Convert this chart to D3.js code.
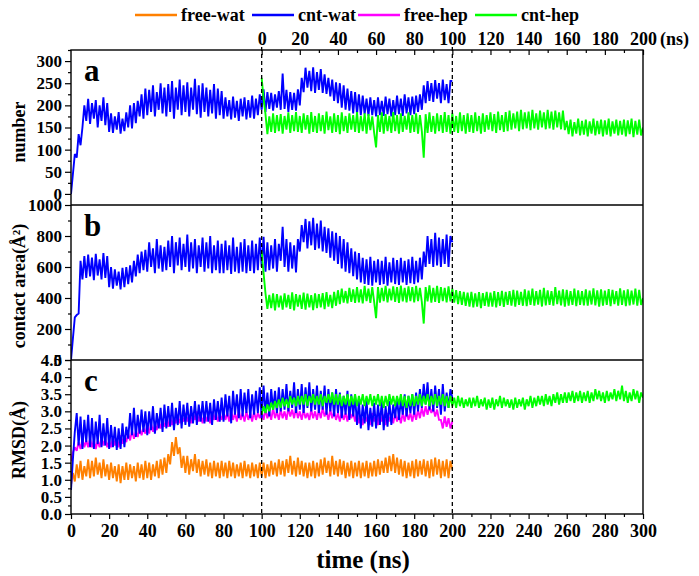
<!DOCTYPE html>
<html><head><meta charset="utf-8">
<script src="https://cdn.jsdelivr.net/npm/d3@7"></script>
<style>html,body{margin:0;padding:0;background:#fff}svg{display:block}</style>
</head><body><svg id="c" width="699" height="576"></svg>
<script>
// ---------------- DATA ----------------
const timeTicksBottom = [0,20,40,60,80,100,120,140,160,180,200,220,240,260,280,300];
const timeTicksTop = [0,20,40,60,80,100,120,140,160,180,200];
const ticksNumber = [0,50,100,150,200,250,300];
const ticksArea = [0,200,400,600,800,1000];
const ticksRmsd = [0,0.5,1,1.5,2,2.5,3,3.5,4,4.5];
const seriesNames = ["free-wat","cnt-wat","free-hep","cnt-hep"];
const seriesColors = ["#FF8000","#0000FF","#FF00FF","#00FF00"];
const startWat = 0, startHep = 100; // ns, first sample time (1 ns step)

// panel a : number
const numCntWat = [
0,45,90,82,135,110,150,200,165,215,
158,205,170,212,150,200,165,218,155,205,
140,182,138,175,145,185,136,170,142,184,
150,200,148,205,160,210,175,225,170,238,
178,235,185,245,175,230,190,250,182,240,
175,248,185,255,170,240,190,258,178,245,
185,252,175,240,190,260,180,245,172,250,
185,240,175,235,182,248,170,238,178,232,
170,218,175,212,168,220,172,210,165,215,
175,218,168,212,172,222,170,215,178,225,
190,236,185,230,192,228,188,225,195,232,
190,272,192,235,185,230,190,228,188,236,
200,262,230,285,240,278,232,286,228,275,
235,282,228,270,226,262,220,258,210,252,
205,250,195,245,190,238,188,232,182,230,
180,225,178,222,180,215,176,218,178,212,
175,218,178,210,176,220,180,215,175,212,
178,222,180,215,176,225,182,218,178,220,
180,222,185,225,190,245,205,255,210,250,
208,257,215,250,205,258,212,248,205,255,
255];
const numCntHep = [
262,215,180,135,175,140,182,138,178,142,
180,136,176,145,184,138,178,142,185,140,
176,138,182,145,178,136,185,140,176,138,
182,142,178,136,186,144,175,138,182,140,
178,135,184,142,176,138,182,145,178,140,
185,138,176,142,182,136,180,144,175,138,
105,178,140,184,136,180,142,176,138,185,
142,178,136,182,140,176,145,184,138,178,
140,182,136,178,142,82,180,138,184,140,
176,136,182,142,178,138,185,140,178,136,
182,140,176,138,184,142,178,136,182,140,
178,138,184,142,176,136,182,140,178,145,
184,142,180,138,186,144,178,140,185,142,
188,145,182,148,186,142,190,146,184,148,
186,144,190,148,182,145,188,150,184,146,
190,148,186,145,188,150,184,146,188,144,
165,135,168,130,162,136,170,132,165,134,
168,130,164,136,170,132,165,135,168,130,
166,134,170,130,164,136,168,132,165,134,
168,130,166,135,170,128,165,134,168,132,
150];

// panel b : contact area
const areaCntWat = [
0,140,275,290,300,640,520,670,530,680,
540,660,515,685,545,650,520,690,530,670,
470,600,460,585,480,570,455,595,470,600,
490,610,500,640,540,680,560,700,580,710,
570,760,600,720,560,780,590,740,570,730,
580,770,600,800,560,760,610,790,580,750,
600,810,570,760,590,780,560,740,600,790,
570,760,590,800,560,740,580,770,560,750,
560,770,580,740,555,790,570,730,560,760,
570,780,560,740,575,770,560,750,580,790,
600,795,570,760,580,740,590,780,570,750,
640,860,600,780,570,760,590,740,565,780,
700,870,760,910,720,895,740,918,710,880,
720,900,700,860,690,850,660,830,640,820,
620,800,590,780,570,760,560,720,540,700,
520,690,500,660,490,650,485,665,480,640,
500,650,485,640,490,665,480,630,500,660,
490,645,485,660,500,640,485,650,495,665,
490,640,500,660,520,700,600,800,620,780,
600,820,610,790,600,780,620,810,600,800,
760];
const areaCntHep = [
700,560,430,330,420,335,430,320,425,340,
415,325,430,340,420,330,436,320,425,345,
420,330,435,325,428,340,418,322,430,335,
425,340,432,328,438,345,420,335,440,350,
450,360,460,370,445,365,465,375,455,368,
470,372,455,365,478,380,460,368,470,375,
270,470,370,465,380,478,372,460,385,475,
375,470,368,480,378,465,372,475,380,470,
372,478,380,465,375,235,470,378,482,370,
465,375,478,368,470,380,465,372,475,378,
460,370,450,360,445,355,440,350,435,345,
440,340,430,345,438,335,432,350,440,345,
435,345,445,340,438,350,446,342,440,355,
445,350,452,345,448,355,440,350,455,348,
448,355,460,350,445,358,452,345,465,352,
450,356,445,350,470,360,448,352,455,345,
452,350,445,355,460,348,450,356,445,352,
455,350,448,358,462,352,450,345,456,350,
448,355,458,348,452,360,445,350,462,355,
450,348,455,352,448,358,460,350,452,355,
400];

// panel c : RMSD
const rmsdFreeWat = [
0.85,1.2,0.95,1.45,1.05,1.55,1.0,1.4,1.1,1.6,
1.05,1.55,1.1,1.65,1.15,1.5,1.05,1.6,1.1,1.45,
1.0,1.5,1.05,1.4,0.95,1.45,0.9,1.4,1.0,1.5,
1.0,1.45,1.05,1.4,0.95,1.5,1.05,1.45,1.0,1.55,
1.05,1.5,1.0,1.45,1.1,1.55,1.05,1.6,1.15,1.65,
1.2,1.75,1.45,2.1,1.7,2.25,1.75,1.95,1.35,1.7,
1.2,1.7,1.15,1.6,1.25,1.75,1.2,1.6,1.1,1.55,
1.15,1.6,1.1,1.5,1.05,1.55,1.1,1.5,1.05,1.55,
1.1,1.5,1.05,1.55,1.1,1.5,1.05,1.45,1.1,1.5,
1.05,1.55,1.1,1.45,1.05,1.5,1.1,1.45,1.05,1.5,
1.1,1.5,1.05,1.45,1.1,1.55,1.15,1.5,1.1,1.6,
1.15,1.55,1.1,1.6,1.2,1.7,1.15,1.55,1.1,1.65,
1.15,1.55,1.1,1.5,1.05,1.5,1.1,1.55,1.05,1.5,
1.1,1.6,1.15,1.65,1.2,1.55,1.1,1.7,1.15,1.55,
1.1,1.6,1.15,1.55,1.05,1.5,1.1,1.55,1.05,1.5,
1.1,1.55,1.05,1.5,1.1,1.55,1.05,1.5,1.1,1.55,
1.1,1.6,1.15,1.55,1.2,1.65,1.2,1.7,1.25,1.75,
1.2,1.65,1.15,1.6,1.1,1.55,1.05,1.5,1.1,1.55,
1.05,1.6,1.1,1.55,1.15,1.6,1.1,1.55,1.05,1.6,
1.1,1.65,1.15,1.6,1.05,1.55,1.1,1.6,1.05,1.55,
1.3];
const rmsdCntWat = [
0.7,1.6,2.4,2.95,2.0,2.85,1.9,2.75,2.1,2.9,
1.95,2.8,1.9,2.7,2.05,2.9,1.95,2.65,2.0,2.8,
1.9,2.6,1.95,2.55,1.87,2.5,1.9,2.65,1.95,2.55,
2.2,2.95,2.3,3.1,2.25,2.9,2.35,3.05,2.4,3.0,
2.3,3.0,2.45,3.15,2.35,2.95,2.5,3.1,2.4,3.2,
2.5,3.15,2.55,3.25,2.45,3.1,2.6,3.3,2.5,3.2,
2.6,3.25,2.55,3.15,2.65,3.3,2.6,3.2,2.7,3.3,
2.65,3.3,2.7,3.25,2.6,3.35,2.75,3.3,2.7,3.4,
2.7,3.5,2.85,3.45,2.65,3.6,2.9,3.5,2.8,3.65,
2.85,3.55,2.95,3.65,2.8,3.5,2.9,3.6,2.95,3.7,
2.8,3.75,2.95,3.55,2.85,3.65,3.05,3.6,2.95,3.7,
3.0,3.65,3.05,3.8,3.0,3.6,3.1,3.85,2.95,3.65,
3.05,3.8,2.95,3.7,3.1,3.85,3.0,3.65,3.05,3.75,
2.95,3.6,3.05,3.75,2.9,3.65,3.0,3.55,2.85,3.65,
2.95,3.55,2.8,3.45,2.9,3.6,2.75,3.5,2.85,3.45,
2.6,3.3,2.5,3.2,2.65,3.35,2.45,3.1,2.55,3.25,
2.5,3.2,2.6,3.3,2.45,3.15,2.55,3.3,2.6,3.2,
2.8,3.4,2.75,3.35,2.9,3.5,2.85,3.45,2.95,3.5,
2.9,3.55,3.0,3.65,3.1,3.8,3.2,3.85,3.05,3.65,
3.0,3.75,3.1,3.65,2.9,3.8,3.0,3.55,3.1,3.65,
3.4];
const rmsdFreeHep = [
1.55,1.8,1.95,1.85,2.1,1.9,2.2,1.95,2.15,1.95,
2.2,1.95,2.15,1.9,2.15,1.95,2.25,2.0,2.2,1.95,
2.15,1.95,2.25,2.0,2.2,1.95,2.3,2.05,2.3,2.1,
2.35,2.15,2.45,2.2,2.4,2.25,2.55,2.3,2.5,2.35,
2.6,2.35,2.65,2.4,2.6,2.45,2.75,2.5,2.7,2.55,
2.8,2.55,2.85,2.6,2.8,2.65,2.9,2.65,2.85,2.7,
2.95,2.7,2.9,2.65,2.95,2.75,3.0,2.7,2.9,2.65,
2.95,2.7,2.9,2.65,3.0,2.75,2.95,2.7,2.9,2.75,
3.0,2.75,2.95,2.7,3.0,2.75,2.95,2.7,3.05,2.75,
2.95,2.7,3.0,2.75,2.95,2.7,3.0,2.75,2.95,2.8,
3.0,2.75,3.05,2.8,3.0,2.75,3.1,2.8,3.0,2.75,
3.05,2.8,3.0,2.75,3.1,2.85,3.05,2.8,3.1,2.8,
3.0,2.75,3.05,2.8,2.95,2.75,3.05,2.8,3.0,2.75,
3.05,2.8,3.1,2.85,3.0,2.75,3.05,2.8,3.0,2.75,
2.95,2.7,3.0,2.75,2.95,2.7,3.05,2.8,2.95,2.7,
2.95,2.65,2.9,2.6,2.95,2.7,2.9,2.6,2.95,2.7,
2.9,2.6,2.95,2.7,2.9,2.6,2.95,2.7,2.9,2.65,
2.95,2.7,2.9,2.65,2.95,2.7,3.0,2.75,2.95,2.7,
3.0,2.75,3.05,2.8,3.1,2.85,3.15,2.9,3.15,2.95,
3.1,2.85,3.05,2.75,2.75,2.5,2.85,2.55,2.8,2.5,
2.7];
const rmsdCntHep = [
2.9,3.15,2.95,3.2,3.0,3.25,3.05,3.3,3.1,3.35,
3.1,3.4,3.15,3.35,3.1,3.45,3.2,3.4,3.15,3.45,
3.2,3.45,3.2,3.5,3.15,3.45,3.25,3.5,3.2,3.45,
3.2,3.5,3.15,3.45,3.25,3.5,3.25,3.55,3.2,3.5,
3.2,3.5,3.15,3.45,3.2,3.5,3.15,3.45,3.2,3.5,
3.15,3.45,3.2,3.5,3.15,3.45,3.2,3.5,3.15,3.45,
3.2,3.5,3.15,3.45,3.1,3.45,3.15,3.5,3.2,3.45,
3.15,3.45,3.2,3.5,3.15,3.45,3.1,3.45,3.15,3.5,
3.15,3.45,3.2,3.5,3.15,3.45,3.2,3.5,3.15,3.45,
3.2,3.5,3.15,3.45,3.2,3.5,3.15,3.45,3.1,3.45,
3.15,3.4,3.1,3.45,3.15,3.4,3.1,3.35,3.15,3.4,
3.1,3.4,3.15,3.45,3.1,3.35,3.15,3.4,3.05,3.35,
3.1,3.4,3.05,3.35,3.15,3.45,3.1,3.4,3.15,3.35,
3.1,3.35,3.05,3.4,3.1,3.35,3.15,3.4,3.05,3.35,
3.15,3.45,3.1,3.4,3.15,3.45,3.2,3.45,3.15,3.5,
3.2,3.45,3.15,3.5,3.25,3.55,3.2,3.5,3.25,3.55,
3.25,3.55,3.3,3.6,3.25,3.55,3.3,3.6,3.25,3.55,
3.3,3.6,3.25,3.55,3.3,3.65,3.35,3.6,3.3,3.55,
3.25,3.6,3.3,3.55,3.35,3.65,3.3,3.6,3.35,3.75,
3.3,3.6,3.25,3.55,3.3,3.65,3.35,3.6,3.25,3.55,
3.4];

// ---------------- DRAW ----------------
const svg = d3.select("#c");
const FONT = "'Liberation Serif','Times New Roman',serif";
const L = 71, R = 643, T = 50, B = 514;
const x = d3.scaleLinear().domain([0,300]).range([L,R]);
const xTop = d3.scaleLinear().domain([0,200]).range([x(100), x(300)]);

const panels = [
  {id:"a", top:50, bot:205, domain:[-25,325], ticks:ticksNumber, minorStep:25, fmt:d=>d, title:"number", titleY:132,
   series:[{v:numCntWat,s:startWat,c:1},{v:numCntHep,s:startHep,c:3}]},
  {id:"b", top:205, bot:360, domain:[0,1000], ticks:ticksArea, minorStep:100, fmt:d=>d, title:"contact area(Å²)", titleY:286,
   series:[{v:areaCntWat,s:startWat,c:1},{v:areaCntHep,s:startHep,c:3}]},
  {id:"c", top:360, bot:514, domain:[0,4.5], ticks:ticksRmsd, minorStep:0.25, fmt:d3.format(".1f"), title:"RMSD(Å)", titleY:440,
   series:[{v:rmsdFreeWat,s:startWat,c:0},{v:rmsdFreeHep,s:startWat,c:2},{v:rmsdCntWat,s:startWat,c:1},{v:rmsdCntHep,s:startHep,c:3}]}
];

const defs = svg.append("defs");
panels.forEach(p=>{
  defs.append("clipPath").attr("id","clip"+p.id).append("rect")
    .attr("x",L).attr("y",p.top).attr("width",R-L).attr("height",p.bot-p.top);
});

panels.forEach(p=>{
  const y = d3.scaleLinear().domain(p.domain).range([p.bot,p.top]);
  const g = svg.append("g").attr("clip-path","url(#clip"+p.id+")");
  const line = d3.line().x(d=>x(d.t)).y(d=>y(d.v));
  p.series.forEach(s=>{
    const pts = s.v.map((v,i)=>({t:s.s+i, v:v}));
    g.append("path").datum(pts).attr("d",line)
      .attr("fill","none").attr("stroke",seriesColors[s.c]).attr("stroke-width",1.9)
      .attr("stroke-linejoin","miter").attr("stroke-miterlimit",2);
  });
  const major = d3.axisLeft(y).tickValues(p.ticks).tickSize(6).tickPadding(3).tickFormat(p.fmt);
  const ag = svg.append("g").attr("transform",`translate(${L},0)`).call(major);
  ag.select(".domain").remove();
  ag.selectAll("text").attr("font-family",FONT).attr("font-weight","bold").attr("font-size",17).attr("fill","#000");
  ag.selectAll("line").attr("stroke","#000").attr("stroke-width",1.2);
  const minorVals = d3.range(p.domain[0] < 0 ? 0 : p.domain[0], p.domain[1]+1e-9, p.minorStep)
      .filter(v=>!p.ticks.some(t=>Math.abs(t-v)<1e-9));
  const mg = svg.append("g").attr("transform",`translate(${L},0)`)
    .call(d3.axisLeft(y).tickValues(minorVals).tickSize(3).tickFormat(""));
  mg.select(".domain").remove();
  mg.selectAll("line").attr("stroke","#000").attr("stroke-width",1.2);
  svg.append("text").attr("x",84).attr("y",p.top+31).text(p.id)
    .attr("font-family",FONT).attr("font-weight","bold").attr("font-size",31);
  svg.append("text").attr("transform",`translate(25,${p.titleY}) rotate(-90)`)
    .attr("text-anchor","middle").text(p.title)
    .attr("font-family",FONT).attr("font-weight","bold").attr("font-size",18);
});

// frame & dividers
svg.append("rect").attr("x",L).attr("y",T).attr("width",R-L).attr("height",B-T)
  .attr("fill","none").attr("stroke","#000").attr("stroke-width",1.4);
[205,360].forEach(yy=>svg.append("line").attr("x1",L).attr("x2",R).attr("y1",yy).attr("y2",yy)
  .attr("stroke","#000").attr("stroke-width",1.4));

// dashed lines at 100 and 200 ns
[100,200].forEach(t=>svg.append("line").attr("x1",x(t)).attr("x2",x(t)).attr("y1",T-3).attr("y2",B)
  .attr("stroke","#000").attr("stroke-width",1.3).attr("stroke-dasharray","4,3"));

// bottom axis
const bMinor = d3.range(10,300,20);
const bx = svg.append("g").attr("transform",`translate(0,${B})`)
  .call(d3.axisBottom(x).tickValues(timeTicksBottom).tickSize(5).tickPadding(5));
bx.select(".domain").remove();
bx.selectAll("text").attr("font-family",FONT).attr("font-weight","bold").attr("font-size",18);
bx.selectAll("line").attr("stroke-width",1.2);
const bxm = svg.append("g").attr("transform",`translate(0,${B})`)
  .call(d3.axisBottom(x).tickValues(bMinor).tickSize(3).tickFormat(""));
bxm.select(".domain").remove();
bxm.selectAll("line").attr("stroke-width",1.2);

// top axis
const tMinor = d3.range(10,200,20);
const tx = svg.append("g").attr("transform",`translate(0,${T})`)
  .call(d3.axisTop(xTop).tickValues(timeTicksTop).tickSize(-5).tickPadding(5));
tx.select(".domain").remove();
tx.selectAll("text").attr("font-family",FONT).attr("font-weight","bold").attr("font-size",18);
tx.selectAll("line").attr("stroke-width",1.2);
const txm = svg.append("g").attr("transform",`translate(0,${T})`)
  .call(d3.axisTop(xTop).tickValues(tMinor).tickSize(-3).tickFormat(""));
txm.select(".domain").remove();
txm.selectAll("line").attr("stroke-width",1.2);
svg.append("text").attr("x",R+17).attr("y",T-5).text("(ns)")
  .attr("font-family",FONT).attr("font-weight","bold").attr("font-size",18);

// x title
svg.append("text").attr("x",(L+R)/2+6).attr("y",568).attr("text-anchor","middle").text("time (ns)")
  .attr("font-family",FONT).attr("font-weight","bold").attr("font-size",25);

// legend
const legX = [135,252,358,475];
seriesNames.forEach((n,i)=>{
  svg.append("line").attr("x1",legX[i]).attr("x2",legX[i]+42).attr("y1",15).attr("y2",15)
    .attr("stroke",seriesColors[i]).attr("stroke-width",2.5);
  svg.append("text").attr("x",legX[i]+46).attr("y",21).text(n)
    .attr("font-family",FONT).attr("font-weight","bold").attr("font-size",18);
});
</script></body></html>
